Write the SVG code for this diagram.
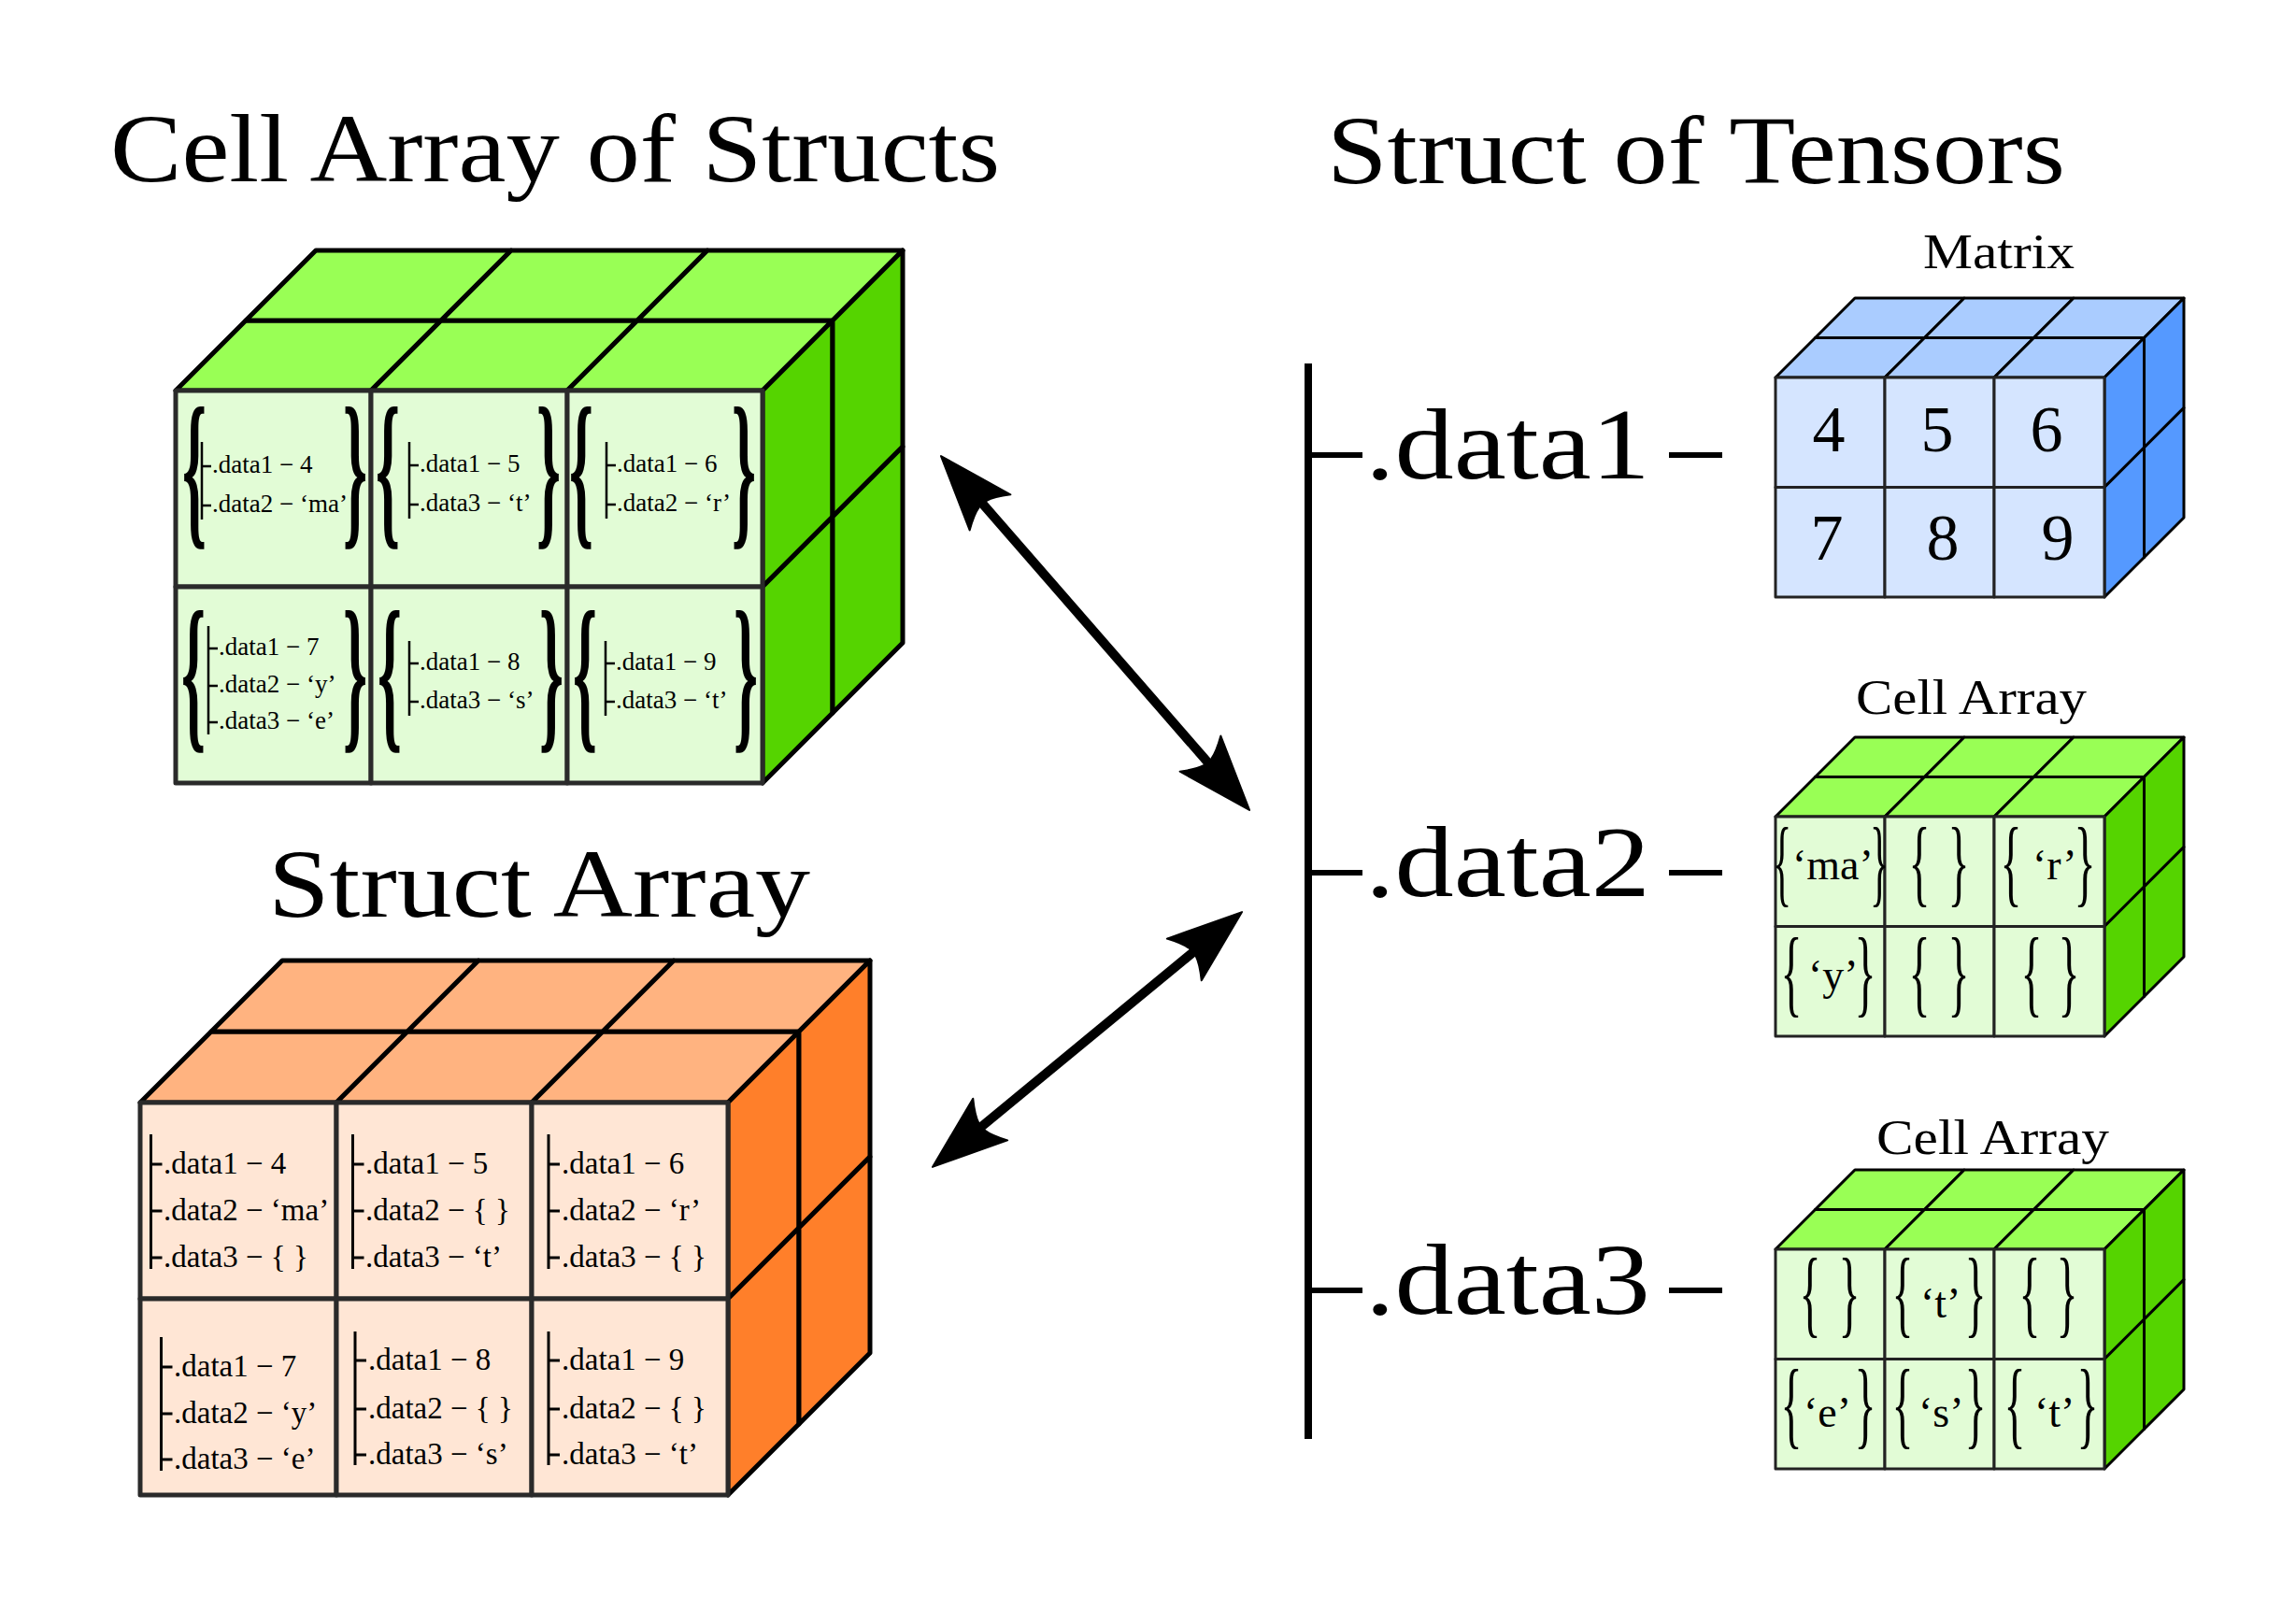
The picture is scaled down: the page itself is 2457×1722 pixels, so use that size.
<svg xmlns="http://www.w3.org/2000/svg" width="2457" height="1722" viewBox="0 0 2457 1722">
<style>
text{font-family:"Liberation Serif","Times New Roman",serif;fill:#000}
.title{font-size:104px}
.lbl{font-size:52px}
.tree{font-size:108px}
.gs{font-size:27px}
.os{font-size:33px}
.num{font-size:70px;text-anchor:middle}
.q{font-size:46px}
.bb{font-size:60px;text-anchor:middle;font-weight:bold}
.sb{font-size:40px;text-anchor:middle}
.big polygon,.big rect{stroke:#000;stroke-width:5;stroke-linejoin:round}
.big rect{stroke:#2a2a2a}
.small polygon,.small rect{stroke:#000;stroke-width:3;stroke-linejoin:round}
.small rect{stroke:#222}
.gt{fill:#99ff55}.gr{fill:#55d400}.gf{fill:#e2fcd6}
.ot{fill:#ffb380}.or{fill:#ff7f2a}.of{fill:#ffe6d5}
.bt{fill:#aaccff}.brr{fill:#5599ff}.bf{fill:#d5e5ff}
.tl{fill:none;stroke:#000;stroke-width:2.5}
.tlo{fill:none;stroke:#000;stroke-width:3}
.stem{fill:none;stroke:#000;stroke-width:8}
.br6{fill:none;stroke:#000;stroke-width:6}
.conn{fill:none;stroke:#000;stroke-width:10;marker-start:url(#ah);marker-end:url(#ah)}
</style>
<defs>
<marker id="ah" markerUnits="userSpaceOnUse" orient="auto-start-reverse" refX="6" refY="0" markerWidth="100" markerHeight="80" viewBox="-20 -40 100 80" overflow="visible">
<path d="M68,0 L-12,-29 Q-2,-14 0,-5 L0,5 Q-2,14 -12,29 Z" fill="#000" stroke="#000" stroke-width="2" stroke-linejoin="round"/>
</marker>
</defs>
<rect width="2457" height="1722" fill="#fff"/>

<g id="titles">
<text class="title" x="118" y="194" textLength="952" lengthAdjust="spacingAndGlyphs">Cell Array of Structs</text>
<text class="title" x="1420" y="196" textLength="790" lengthAdjust="spacingAndGlyphs">Struct of Tensors</text>
<text class="title" x="287" y="981" textLength="580" lengthAdjust="spacingAndGlyphs">Struct Array</text>
</g>

<g id="cell-array-of-structs">
<g class="big" transform="translate(188,418)">
<polygon class="gt" points="0,0 209,0 284,-75 75,-75"/>
<polygon class="gt" points="209,0 419,0 494,-75 284,-75"/>
<polygon class="gt" points="419,0 628,0 703,-75 494,-75"/>
<polygon class="gt" points="75,-75 284,-75 359,-150 150,-150"/>
<polygon class="gt" points="284,-75 494,-75 569,-150 359,-150"/>
<polygon class="gt" points="494,-75 703,-75 778,-150 569,-150"/>
<polygon class="gr" points="628,0 703,-75 703,135 628,210"/>
<polygon class="gr" points="628,210 703,135 703,345 628,420"/>
<polygon class="gr" points="703,-75 778,-150 778,60 703,135"/>
<polygon class="gr" points="703,135 778,60 778,270 703,345"/>
<rect class="gf" x="0" y="0" width="209" height="210"/>
<rect class="gf" x="209" y="0" width="210" height="210"/>
<rect class="gf" x="419" y="0" width="209" height="210"/>
<rect class="gf" x="0" y="210" width="209" height="210"/>
<rect class="gf" x="209" y="210" width="210" height="210"/>
<rect class="gf" x="419" y="210" width="209" height="210"/>
</g>
<text class="bb" transform="translate(208,563) scale(1.1,3.09)">{</text>
<text class="bb" transform="translate(380,563) scale(1.1,3.09)">}</text>
<text class="bb" transform="translate(415,563) scale(1.1,3.09)">{</text>
<text class="bb" transform="translate(587,563) scale(1.1,3.09)">}</text>
<text class="bb" transform="translate(622,563) scale(1.1,3.09)">{</text>
<text class="bb" transform="translate(796,563) scale(1.1,3.09)">}</text>
<text class="bb" transform="translate(207,781) scale(1.1,3.09)">{</text>
<text class="bb" transform="translate(380,781) scale(1.1,3.09)">}</text>
<text class="bb" transform="translate(417,781) scale(1.1,3.09)">{</text>
<text class="bb" transform="translate(590,781) scale(1.1,3.09)">}</text>
<text class="bb" transform="translate(626,781) scale(1.1,3.09)">{</text>
<text class="bb" transform="translate(798,781) scale(1.1,3.09)">}</text>
<path class="tl" d="M216,473V556M216,499h10M216,541h10"/>
<text class="gs" x="227" y="506">.data1 − 4</text>
<text class="gs" x="227" y="548">.data2 − ‘ma’</text>
<path class="tl" d="M438,473V555M438,498h10M438,540h10"/>
<text class="gs" x="449" y="505">.data1 − 5</text>
<text class="gs" x="449" y="547">.data3 − ‘t’</text>
<path class="tl" d="M649,473V555M649,498h10M649,540h10"/>
<text class="gs" x="660" y="505">.data1 − 6</text>
<text class="gs" x="660" y="547">.data2 − ‘r’</text>
<path class="tl" d="M223,670V786M223,694h10M223,734h10M223,773h10"/>
<text class="gs" x="234" y="701">.data1 − 7</text>
<text class="gs" x="234" y="741">.data2 − ‘y’</text>
<text class="gs" x="234" y="780">.data3 − ‘e’</text>
<path class="tl" d="M438,686V766M438,710h10M438,751h10"/>
<text class="gs" x="449" y="717">.data1 − 8</text>
<text class="gs" x="449" y="758">.data3 − ‘s’</text>
<path class="tl" d="M648,686V766M648,710h10M648,751h10"/>
<text class="gs" x="659" y="717">.data1 − 9</text>
<text class="gs" x="659" y="758">.data3 − ‘t’</text>
</g>

<g id="struct-array">
<g class="big" transform="translate(150,1180)">
<polygon class="ot" points="0,0 210,0 286,-76 76,-76"/>
<polygon class="ot" points="210,0 419,0 495,-76 286,-76"/>
<polygon class="ot" points="419,0 629,0 705,-76 495,-76"/>
<polygon class="ot" points="76,-76 286,-76 362,-152 152,-152"/>
<polygon class="ot" points="286,-76 495,-76 571,-152 362,-152"/>
<polygon class="ot" points="495,-76 705,-76 781,-152 571,-152"/>
<polygon class="or" points="629,0 705,-76 705,134 629,210"/>
<polygon class="or" points="629,210 705,134 705,344 629,420"/>
<polygon class="or" points="705,-76 781,-152 781,58 705,134"/>
<polygon class="or" points="705,134 781,58 781,268 705,344"/>
<rect class="of" x="0" y="0" width="210" height="210"/>
<rect class="of" x="210" y="0" width="209" height="210"/>
<rect class="of" x="419" y="0" width="210" height="210"/>
<rect class="of" x="0" y="210" width="210" height="210"/>
<rect class="of" x="210" y="210" width="209" height="210"/>
<rect class="of" x="419" y="210" width="210" height="210"/>
</g>
<path class="tlo" d="M161.5,1214V1358M161.5,1246h12M161.5,1296h12M161.5,1346h12"/>
<text class="os" x="175" y="1256">.data1 − 4</text>
<text class="os" x="175" y="1306">.data2 − ‘ma’</text>
<text class="os" x="175" y="1356">.data3 − { }</text>
<path class="tlo" d="M377.5,1214V1358M377.5,1246h12M377.5,1296h12M377.5,1346h12"/>
<text class="os" x="391" y="1256">.data1 − 5</text>
<text class="os" x="391" y="1306">.data2 − { }</text>
<text class="os" x="391" y="1356">.data3 − ‘t’</text>
<path class="tlo" d="M587,1214V1358M587,1246h12M587,1296h12M587,1346h12"/>
<text class="os" x="601" y="1256">.data1 − 6</text>
<text class="os" x="601" y="1306">.data2 − ‘r’</text>
<text class="os" x="601" y="1356">.data3 − { }</text>
<path class="tlo" d="M172.5,1431V1574M172.5,1463h12M172.5,1513h12M172.5,1562h12"/>
<text class="os" x="186" y="1473">.data1 − 7</text>
<text class="os" x="186" y="1523">.data2 − ‘y’</text>
<text class="os" x="186" y="1572">.data3 − ‘e’</text>
<path class="tlo" d="M380,1425V1568M380,1456h12M380,1508h12M380,1557h12"/>
<text class="os" x="394" y="1466">.data1 − 8</text>
<text class="os" x="394" y="1518">.data2 − { }</text>
<text class="os" x="394" y="1567">.data3 − ‘s’</text>
<path class="tlo" d="M587,1425V1568M587,1456h12M587,1508h12M587,1557h12"/>
<text class="os" x="601" y="1466">.data1 − 9</text>
<text class="os" x="601" y="1518">.data2 − { }</text>
<text class="os" x="601" y="1567">.data3 − ‘t’</text>
</g>

<g id="struct-of-tensors">
<path class="stem" d="M1400,389V1540"/>
<path class="br6" d="M1400,487H1458M1400,934H1458M1400,1381H1458M1786,487H1843M1786,934H1843M1786,1381H1843"/>
<text class="tree" x="1461" y="512" textLength="305" lengthAdjust="spacingAndGlyphs">.data1</text>
<text class="tree" x="1461" y="959" textLength="305" lengthAdjust="spacingAndGlyphs">.data2</text>
<text class="tree" x="1461" y="1406" textLength="305" lengthAdjust="spacingAndGlyphs">.data3</text>
</g>

<g id="matrix">
<text class="lbl" x="2058" y="287" textLength="162" lengthAdjust="spacingAndGlyphs">Matrix</text>
<g class="small" transform="translate(1900,404)">
<polygon class="bt" points="0,0 117,0 159.5,-42.5 42.5,-42.5"/>
<polygon class="bt" points="117,0 234,0 276.5,-42.5 159.5,-42.5"/>
<polygon class="bt" points="234,0 352,0 394.5,-42.5 276.5,-42.5"/>
<polygon class="bt" points="42.5,-42.5 159.5,-42.5 202,-85 85,-85"/>
<polygon class="bt" points="159.5,-42.5 276.5,-42.5 319,-85 202,-85"/>
<polygon class="bt" points="276.5,-42.5 394.5,-42.5 437,-85 319,-85"/>
<polygon class="brr" points="352,0 394.5,-42.5 394.5,75 352,117.5"/>
<polygon class="brr" points="352,117.5 394.5,75 394.5,192.5 352,235"/>
<polygon class="brr" points="394.5,-42.5 437,-85 437,32.5 394.5,75"/>
<polygon class="brr" points="394.5,75 437,32.5 437,150 394.5,192.5"/>
<rect class="bf" x="0" y="0" width="117" height="117.5"/>
<rect class="bf" x="117" y="0" width="117" height="117.5"/>
<rect class="bf" x="234" y="0" width="118" height="117.5"/>
<rect class="bf" x="0" y="117.5" width="117" height="117.5"/>
<rect class="bf" x="117" y="117.5" width="117" height="117.5"/>
<rect class="bf" x="234" y="117.5" width="118" height="117.5"/>
</g>
<text class="num" x="1957" y="483">4</text>
<text class="num" x="2073" y="483">5</text>
<text class="num" x="2190" y="483">6</text>
<text class="num" x="1955" y="599">7</text>
<text class="num" x="2079" y="599">8</text>
<text class="num" x="2202" y="599">9</text>
</g>

<g id="cell-array-data2">
<text class="lbl" x="1986" y="764" textLength="247" lengthAdjust="spacingAndGlyphs">Cell Array</text>
<g class="small" transform="translate(1900,874)">
<polygon class="gt" points="0,0 117,0 159.5,-42.5 42.5,-42.5"/>
<polygon class="gt" points="117,0 234,0 276.5,-42.5 159.5,-42.5"/>
<polygon class="gt" points="234,0 352,0 394.5,-42.5 276.5,-42.5"/>
<polygon class="gt" points="42.5,-42.5 159.5,-42.5 202,-85 85,-85"/>
<polygon class="gt" points="159.5,-42.5 276.5,-42.5 319,-85 202,-85"/>
<polygon class="gt" points="276.5,-42.5 394.5,-42.5 437,-85 319,-85"/>
<polygon class="gr" points="352,0 394.5,-42.5 394.5,75 352,117.5"/>
<polygon class="gr" points="352,117.5 394.5,75 394.5,192.5 352,235"/>
<polygon class="gr" points="394.5,-42.5 437,-85 437,32.5 394.5,75"/>
<polygon class="gr" points="394.5,75 437,32.5 437,150 394.5,192.5"/>
<rect class="gf" x="0" y="0" width="117" height="117.5"/>
<rect class="gf" x="117" y="0" width="117" height="117.5"/>
<rect class="gf" x="234" y="0" width="118" height="117.5"/>
<rect class="gf" x="0" y="117.5" width="117" height="117.5"/>
<rect class="gf" x="117" y="117.5" width="117" height="117.5"/>
<rect class="gf" x="234" y="117.5" width="118" height="117.5"/>
</g>
<text class="sb" transform="translate(1907,957) scale(1.05,2.58)">{</text>
<text class="q" x="1918" y="941" font-size="43">‘ma’</text>
<text class="sb" transform="translate(2011,957) scale(1.05,2.58)">}</text>
<text class="sb" transform="translate(2054,957) scale(1.2,2.58)">{</text>
<text class="sb" transform="translate(2096,957) scale(1.2,2.58)">}</text>
<text class="sb" transform="translate(2152,957) scale(1.2,2.58)">{</text>
<text class="q" x="2175" y="941">‘r’</text>
<text class="sb" transform="translate(2231,957) scale(1.2,2.58)">}</text>
<text class="sb" transform="translate(1917,1075) scale(1.2,2.58)">{</text>
<text class="q" x="1935" y="1059">‘y’</text>
<text class="sb" transform="translate(1996,1075) scale(1.2,2.58)">}</text>
<text class="sb" transform="translate(2054,1075) scale(1.2,2.58)">{</text>
<text class="sb" transform="translate(2096,1075) scale(1.2,2.58)">}</text>
<text class="sb" transform="translate(2174,1075) scale(1.2,2.58)">{</text>
<text class="sb" transform="translate(2214,1075) scale(1.2,2.58)">}</text>
</g>

<g id="cell-array-data3">
<text class="lbl" x="2008" y="1235" textLength="249" lengthAdjust="spacingAndGlyphs">Cell Array</text>
<g class="small" transform="translate(1900,1337)">
<polygon class="gt" points="0,0 117,0 159.5,-42.5 42.5,-42.5"/>
<polygon class="gt" points="117,0 234,0 276.5,-42.5 159.5,-42.5"/>
<polygon class="gt" points="234,0 352,0 394.5,-42.5 276.5,-42.5"/>
<polygon class="gt" points="42.5,-42.5 159.5,-42.5 202,-85 85,-85"/>
<polygon class="gt" points="159.5,-42.5 276.5,-42.5 319,-85 202,-85"/>
<polygon class="gt" points="276.5,-42.5 394.5,-42.5 437,-85 319,-85"/>
<polygon class="gr" points="352,0 394.5,-42.5 394.5,75 352,117.5"/>
<polygon class="gr" points="352,117.5 394.5,75 394.5,192.5 352,235"/>
<polygon class="gr" points="394.5,-42.5 437,-85 437,32.5 394.5,75"/>
<polygon class="gr" points="394.5,75 437,32.5 437,150 394.5,192.5"/>
<rect class="gf" x="0" y="0" width="117" height="117.5"/>
<rect class="gf" x="117" y="0" width="117" height="117.5"/>
<rect class="gf" x="234" y="0" width="118" height="117.5"/>
<rect class="gf" x="0" y="117.5" width="117" height="117.5"/>
<rect class="gf" x="117" y="117.5" width="117" height="117.5"/>
<rect class="gf" x="234" y="117.5" width="118" height="117.5"/>
</g>
<text class="sb" transform="translate(1937,1418) scale(1.2,2.58)">{</text>
<text class="sb" transform="translate(1979,1418) scale(1.2,2.58)">}</text>
<text class="sb" transform="translate(2036,1418) scale(1.2,2.58)">{</text>
<text class="q" x="2055" y="1410">‘t’</text>
<text class="sb" transform="translate(2114,1418) scale(1.2,2.58)">}</text>
<text class="sb" transform="translate(2172,1418) scale(1.2,2.58)">{</text>
<text class="sb" transform="translate(2212,1418) scale(1.2,2.58)">}</text>
<text class="sb" transform="translate(1917,1537) scale(1.2,2.58)">{</text>
<text class="q" x="1930" y="1527">‘e’</text>
<text class="sb" transform="translate(1996,1537) scale(1.2,2.58)">}</text>
<text class="sb" transform="translate(2036,1537) scale(1.2,2.58)">{</text>
<text class="q" x="2053" y="1527">‘s’</text>
<text class="sb" transform="translate(2114,1537) scale(1.2,2.58)">}</text>
<text class="sb" transform="translate(2156,1537) scale(1.2,2.58)">{</text>
<text class="q" x="2177" y="1527">‘t’</text>
<text class="sb" transform="translate(2234,1537) scale(1.2,2.58)">}</text>
</g>

<g id="connectors">
<path class="conn" d="M1047.7,534.8L1296.3,820.2"/>
<path class="conn" d="M1045.8,1209.5L1281.2,1015.5"/>
</g>
</svg>
